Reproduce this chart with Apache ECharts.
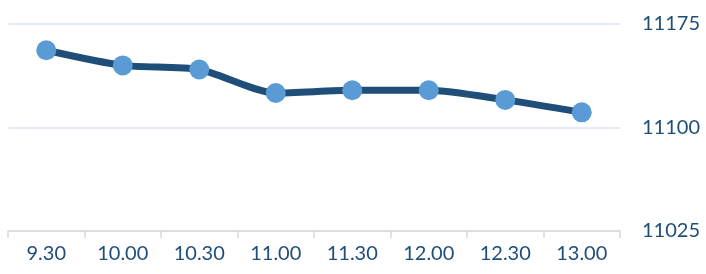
<!DOCTYPE html>
<html>
<head>
    <meta charset="utf-8">
    <title>Line</title>
    <script src="https://cdn.jsdelivr.net/npm/echarts@6/dist/echarts.min.js"></script>
    <style type="text/css">
        body{ margin:0; background:#fff; }
    </style>
</head>
<body>
<div id="main" style="width:706px;height:274px;"></div>
<script type="text/javascript">
    var categories = ['9.30', '10.00', '10.30', '11.00', '11.30', '12.00', '12.30', '13.00'];
    var values = [11156, 11145, 11142, 11125, 11127, 11127, 11120, 11111];
    var yTicks = [11025, 11100, 11175];

    var myChart = echarts.init(document.getElementById('main'));
    myChart.setOption({
        animation: false,
        grid: { left: 8, right: 86, top: 24, bottom: 43 },
        xAxis: {
            type: 'category',
            data: categories,
            boundaryGap: true,
            axisLine: { lineStyle: { color: '#d9d9d9', width: 1.5 } },
            axisTick: { show: true, length: 7, lineStyle: { color: '#d9d9d9', width: 1.5 } },
            axisLabel: { color: '#1f4e79', fontSize: 20, fontFamily: 'Lato', margin: 13 }
        },
        yAxis: {
            type: 'value',
            position: 'right',
            min: yTicks[0],
            max: yTicks[yTicks.length - 1],
            interval: 75,
            axisLine: { show: false },
            axisTick: { show: false },
            splitLine: { lineStyle: { color: '#dae5f2', width: 1.5 } },
            axisLabel: {
                color: '#1f4e79', fontSize: 20, fontFamily: 'Lato', margin: 22,
                formatter: function (v) { return String(v); }
            }
        },
        series: [{
            type: 'line',
            data: values,
            smooth: 0.25,
            symbol: 'circle',
            symbolSize: 20,
            lineStyle: { color: '#1f4e79', width: 7 },
            itemStyle: { color: '#5b9bd5' }
        }]
    });
</script>
</body>
</html>
